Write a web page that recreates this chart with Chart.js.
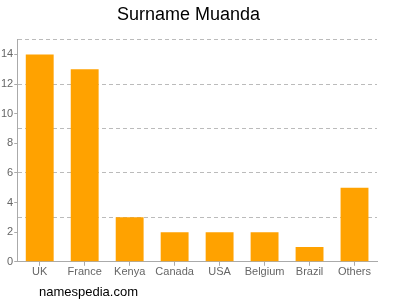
<!DOCTYPE html>
<html>
<head>
<meta charset="utf-8">
<script src="https://cdn.jsdelivr.net/npm/chart.js@4/dist/chart.umd.min.js"></script>
<style>
  body { margin: 0; background: #fff; }
</style>
</head>
<body>
<canvas id="myChart" width="400" height="300"></canvas>
<script>
const countries = ['UK', 'France', 'Kenya', 'Canada', 'USA', 'Belgium', 'Brazil', 'Others'];
const counts = [14, 13, 3, 2, 2, 2, 1, 5];
const yMax = 15;
const labelStep = 2; // tick labels every 2
const gridStep = 3;  // dashed grid lines every 3

// footer text under the chart
const footerText = {
  id: 'footerText',
  afterDraw(chart) {
    const ctx = chart.ctx;
    ctx.save();
    ctx.font = '13px "Liberation Sans", Arial, sans-serif';
    ctx.fillStyle = '#000';
    ctx.textBaseline = 'middle';
    ctx.fillText('namespedia.com', 39, 292);
    ctx.restore();
  }
};

new Chart(document.getElementById('myChart').getContext('2d'), {
  type: 'bar',
  data: {
    labels: countries,
    datasets: [{
      label: 'Surname Muanda',
      data: counts,
      backgroundColor: '#ffa200',
      borderWidth: 0,
      barPercentage: 0.62,
      categoryPercentage: 1
    }]
  },
  options: {
    responsive: false,
    animation: false,
    layout: { padding: { left: 0, right: 23, top: 0, bottom: 21 } },
    plugins: {
      legend: { display: false },
      tooltip: { enabled: false },
      title: {
        display: true,
        text: 'Surname Muanda',
        color: '#000',
        font: { family: '"Liberation Sans", Arial, sans-serif', size: 18, weight: 'normal' },
        padding: { top: 4, bottom: 14 }
      }
    },
    scales: {
      x: {
        grid: { offset: false, drawOnChartArea: false, color: '#aaa', tickLength: 4 },
        border: { color: '#aaa' },
        ticks: {
          color: '#666',
          padding: 0,
          maxRotation: 0,
          autoSkip: false,
          font: { family: '"Liberation Sans", Arial, sans-serif', size: 11 }
        }
      },
      y: {
        min: 0,
        max: yMax,
        afterBuildTicks(scale) {
          const t = [];
          for (let v = 0; v <= yMax; v++) t.push({ value: v });
          scale.ticks = t;
        },
        grid: {
          color: ctx => (ctx.tick && ctx.tick.value > 0 && ctx.tick.value % gridStep === 0) ? '#bbb' : 'rgba(0,0,0,0)',
          tickColor: ctx => (ctx.tick && ctx.tick.value % labelStep === 0 && ctx.tick.value < yMax) ? '#aaa' : 'rgba(0,0,0,0)',
          tickLength: 3
        },
        border: { color: '#aaa', dash: [4, 3] },
        ticks: {
          color: '#666',
          padding: 1,
          autoSkip: false,
          font: { family: '"Liberation Sans", Arial, sans-serif', size: 11 },
          callback: v => (v % labelStep === 0 && v < yMax) ? v : ''
        }
      }
    }
  },
  plugins: [footerText]
});
</script>
</body>
</html>
